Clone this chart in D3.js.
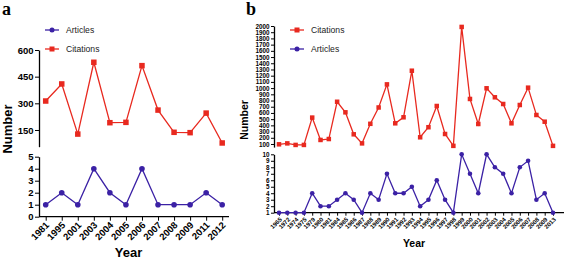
<!DOCTYPE html>
<html>
<head>
<meta charset="utf-8">
<style>
  body { margin: 0; background: #fff; }
  svg { font-family: 'Liberation Sans', Arial, sans-serif; }
  .axis .domain { stroke: #000; stroke-width: 1.3; }
  .axis .tick line { stroke: #000; stroke-width: 1; }
  .axis .tick text { font-weight: bold; fill: #000; }
  .ttl { font-weight: bold; fill: #000; }
</style>
</head>
<body>
<svg width="567" height="260"></svg>
<script src="https://d3js.org/d3.v7.min.js"></script>
<script>
// panel a
const yearsA = ["1981","1995","2001","2003","2004","2005","2006","2007","2008","2009","2011","2012"];
const citesA = [313, 409, 127, 531, 191, 193, 512, 262, 137, 135, 245, 77];
const artsA  = [1, 2, 1, 4, 2, 1, 4, 1, 1, 1, 2, 1];
const ticksCitesA = [150, 300, 450, 600];
const ticksArtsA = [0, 1, 2, 3, 4, 5];

// panel b
const yearsB = ["1965","1972","1974","1975","1979","1980","1981","1984","1985","1986","1987","1988",
  "1989","1990","1991","1992","1993","1994","1995","1996","1997","1998","1999","2000","2001","2002",
  "2003","2004","2005","2006","2007","2008","2009","2013"];
const citesB = [95, 110, 85, 85, 525, 165, 180, 780, 610, 256, 110, 425, 688, 1060, 433, 530, 1280,
  208, 370, 712, 261, 70, 1985, 825, 422, 997, 852, 744, 433, 728, 1007, 567, 459, 70];
const artsB = [1, 1, 1, 1, 4, 2, 2, 3, 4, 3, 1, 4, 3, 7, 4, 4, 5, 2, 3, 6, 3, 1, 10, 7, 4, 10, 8, 7,
  4, 8, 9, 3, 4, 1];
const ticksCitesB = d3.range(100, 2001, 100);
const ticksArtsB = d3.range(1, 11);

const red = "#e8291f", blue = "#3b21a5";
const svg = d3.select("svg");
const fmt = d3.format("d");

function panel(cfg) {
  const g = svg.append("g");
  const x = d3.scalePoint().domain(cfg.years).range(cfg.xRange);
  const yc = d3.scaleLinear().domain(cfg.citeDomain).range(cfg.citeRange);
  const ya = d3.scaleLinear().domain(cfg.artDomain).range(cfg.artRange);

  // y axes (broken: citations on top, articles below)
  g.append("g").attr("class", "axis").attr("transform", `translate(${cfg.axisX},0)`)
    .call(d3.axisLeft(yc).tickValues(cfg.citeTicks).tickFormat(fmt).tickSize(cfg.tick).tickSizeOuter(0).tickPadding(1.5))
    .selectAll("text").style("font-size", cfg.tickFont + "px");
  g.append("g").attr("class", "axis").attr("transform", `translate(${cfg.axisX},0)`)
    .call(d3.axisLeft(ya).tickValues(cfg.artTicks).tickFormat(fmt).tickSize(cfg.tick).tickSizeOuter(0).tickPadding(1.5))
    .selectAll("text").style("font-size", cfg.tickFont + "px");

  // x axis
  const xa = g.append("g").attr("class", "axis").attr("transform", `translate(0,${cfg.artRange[0]})`)
    .call(d3.axisBottom(x).tickSize(cfg.tick).tickPadding(1));
  xa.select(".domain").remove();
  xa.append("line").attr("x1", cfg.axisX).attr("x2", cfg.axisEnd).attr("stroke", "#000").attr("stroke-width", 1.3);
  xa.selectAll(".tick text").style("font-size", cfg.xFont + "px")
    .attr("text-anchor", "end").attr("dy", "0.35em")
    .attr("transform", `translate(2,${cfg.tick + 2}) rotate(-45)`).attr("y", 0).attr("x", -1);

  // lines + markers
  const lc = d3.line().x((d, i) => x(cfg.years[i])).y(d => yc(d));
  const la = d3.line().x((d, i) => x(cfg.years[i])).y(d => ya(d));
  g.append("path").datum(cfg.cites).attr("d", lc).attr("fill", "none").attr("stroke", red).attr("stroke-width", 1.3);
  g.append("path").datum(cfg.arts).attr("d", la).attr("fill", "none").attr("stroke", blue).attr("stroke-width", 1.3);
  g.selectAll(".sq").data(cfg.cites).join("rect")
    .attr("x", (d, i) => x(cfg.years[i]) - cfg.sq / 2).attr("y", d => yc(d) - cfg.sq / 2)
    .attr("width", cfg.sq).attr("height", cfg.sq).attr("fill", red);
  g.selectAll(".dot").data(cfg.arts).join("circle")
    .attr("cx", (d, i) => x(cfg.years[i])).attr("cy", d => ya(d)).attr("r", cfg.r).attr("fill", blue);

  // titles
  g.append("text").attr("class", "ttl").attr("x", cfg.yearX).attr("y", cfg.yearY)
    .attr("text-anchor", "middle").style("font-size", cfg.titleFont + "px").text("Year");
  g.append("text").attr("class", "ttl").attr("text-anchor", "middle")
    .attr("transform", `translate(${cfg.numX},${cfg.numY}) rotate(-90)`)
    .style("font-size", cfg.titleFont + "px").text("Number");
  g.append("text").attr("x", cfg.letterX).attr("y", 15)
    .style("font-family", "'Liberation Serif', serif").style("font-weight", "bold").style("font-size", "18px")
    .text(cfg.letter);

  // legend
  cfg.legend.forEach((it, i) => {
    const ly = 30 + i * 19;
    const lg = g.append("g").attr("transform", `translate(${cfg.legX},${ly})`);
    lg.append("line").attr("x1", 0).attr("x2", 14).attr("stroke", it.c).attr("stroke-width", 1.3);
    if (it.m === "sq") lg.append("rect").attr("x", 7 - 2.5).attr("y", -2.5).attr("width", 5).attr("height", 5).attr("fill", it.c);
    else lg.append("circle").attr("cx", 7).attr("r", 2.5).attr("fill", it.c);
    lg.append("text").attr("x", 21).attr("y", 3).style("font-size", "8.6px").attr("fill", "#222").text(it.t);
  });
}

panel({
  years: yearsA, cites: citesA, arts: artsA,
  xRange: [45.7, 222.2], axisX: 39, axisEnd: 229,
  citeDomain: [56, 600], citeRange: [146.7, 50], citeTicks: ticksCitesA,
  artDomain: [0, 5], artRange: [216.7, 156.7], artTicks: ticksArtsA,
  tick: 4, tickFont: 9.5, xFont: 9.5, sq: 5.5, r: 2.8,
  titleFont: 13, yearX: 128.5, yearY: 257, numX: 12, numY: 129,
  letter: "a", letterX: 2, legX: 45,
  legend: [{ t: "Articles", c: blue, m: "c" }, { t: "Citations", c: red, m: "sq" }]
});

panel({
  years: yearsB, cites: citesB, arts: artsB,
  xRange: [279, 553], axisX: 274, axisEnd: 564,
  citeDomain: [50, 2000], citeRange: [147.1, 26], citeTicks: ticksCitesB,
  artDomain: [1, 10], artRange: [212.7, 154.3], artTicks: ticksArtsB,
  tick: 3, tickFont: 6.3, xFont: 6, sq: 4.5, r: 2.3,
  titleFont: 10.5, yearX: 414, yearY: 246.5, numX: 248, numY: 120,
  letter: "b", letterX: 246, legX: 290,
  legend: [{ t: "Citations", c: red, m: "sq" }, { t: "Articles", c: blue, m: "c" }]
});
</script>
</body>
</html>
